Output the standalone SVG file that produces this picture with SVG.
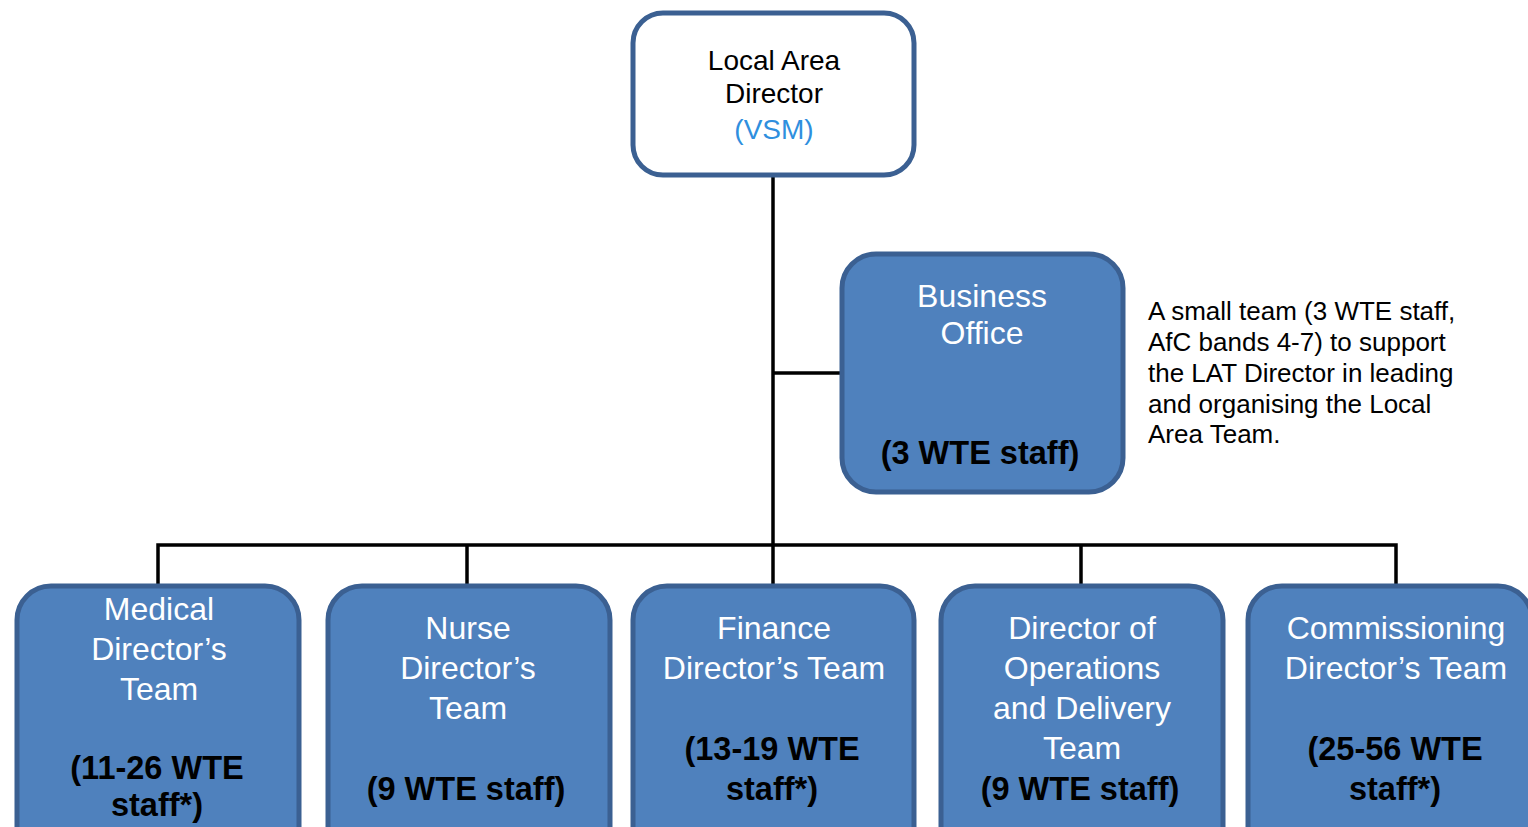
<svg xmlns="http://www.w3.org/2000/svg" width="1528" height="827" viewBox="0 0 1528 827">
<style>
  .box { fill: #4f81bd; stroke: #3b6092; stroke-width: 5; }
  .top { fill: #ffffff; stroke: #3b6092; stroke-width: 5; }
  .t { font-family: "Liberation Sans", Arial, sans-serif; font-size: 32px; fill: #ffffff; text-anchor: middle; }
  .b { font-family: "Liberation Sans", Arial, sans-serif; font-size: 32.5px; font-weight: bold; fill: #000000; text-anchor: middle; }
  .k { font-family: "Liberation Sans", Arial, sans-serif; font-size: 28px; fill: #000000; text-anchor: middle; }
  .v { font-family: "Liberation Sans", Arial, sans-serif; font-size: 28px; fill: #2f8fde; text-anchor: middle; }
  .n { font-family: "Liberation Sans", Arial, sans-serif; font-size: 26px; fill: #000000; }
  .c { fill: none; stroke: #000000; stroke-width: 3.5; }
</style>
<rect width="1528" height="827" fill="#ffffff"/>
<g id="connectors">
  <path class="c" d="M773 176 V585"/>
  <path class="c" d="M773 373 H842"/>
  <path class="c" d="M158 585 V545 H1396 V585"/>
  <path class="c" d="M467 545 V585"/>
  <path class="c" d="M1081 545 V585"/>
</g>
<g id="local-area-director">
  <rect class="top" x="633" y="13" width="281" height="162" rx="30"/>
  <text class="k" x="774" y="70">Local Area</text>
  <text class="k" x="774" y="103">Director</text>
  <text class="v" x="774" y="139">(VSM)</text>
</g>
<g id="business-office">
  <rect class="box" x="842" y="254" width="281" height="238" rx="34"/>
  <text class="t" x="982" y="307">Business</text>
  <text class="t" x="982" y="344">Office</text>
  <text class="b" x="980" y="464">(3 WTE staff)</text>
</g>
<g id="business-note">
  <text class="n" x="1148" y="320">A small team (3 WTE staff,</text>
  <text class="n" x="1148" y="351">AfC bands 4-7) to support</text>
  <text class="n" x="1148" y="382">the LAT Director in leading</text>
  <text class="n" x="1148" y="413">and organising the Local</text>
  <text class="n" x="1148" y="443">Area Team.</text>
</g>
<g id="medical">
  <rect class="box" x="17" y="586" width="282" height="280" rx="34"/>
  <text class="t" x="159" y="620">Medical</text>
  <text class="t" x="159" y="660">Director’s</text>
  <text class="t" x="159" y="700">Team</text>
  <text class="b" x="157" y="779">(11-26 WTE</text>
  <text class="b" x="157" y="816">staff*)</text>
</g>
<g id="nurse">
  <rect class="box" x="328" y="586" width="282" height="280" rx="34"/>
  <text class="t" x="468" y="639">Nurse</text>
  <text class="t" x="468" y="679">Director’s</text>
  <text class="t" x="468" y="719">Team</text>
  <text class="b" x="466" y="800">(9 WTE staff)</text>
</g>
<g id="finance">
  <rect class="box" x="633" y="586" width="281" height="280" rx="34"/>
  <text class="t" x="774" y="639">Finance</text>
  <text class="t" x="774" y="679">Director’s Team</text>
  <text class="b" x="772" y="760">(13-19 WTE</text>
  <text class="b" x="772" y="800">staff*)</text>
</g>
<g id="operations">
  <rect class="box" x="941" y="586" width="282" height="280" rx="34"/>
  <text class="t" x="1082" y="639">Director of</text>
  <text class="t" x="1082" y="679">Operations</text>
  <text class="t" x="1082" y="719">and Delivery</text>
  <text class="t" x="1082" y="759">Team</text>
  <text class="b" x="1080" y="800">(9 WTE staff)</text>
</g>
<g id="commissioning">
  <rect class="box" x="1248" y="586" width="284" height="280" rx="34"/>
  <text class="t" x="1396" y="639">Commissioning</text>
  <text class="t" x="1396" y="679">Director’s Team</text>
  <text class="b" x="1395" y="760">(25-56 WTE</text>
  <text class="b" x="1395" y="800">staff*)</text>
</g>
</svg>
